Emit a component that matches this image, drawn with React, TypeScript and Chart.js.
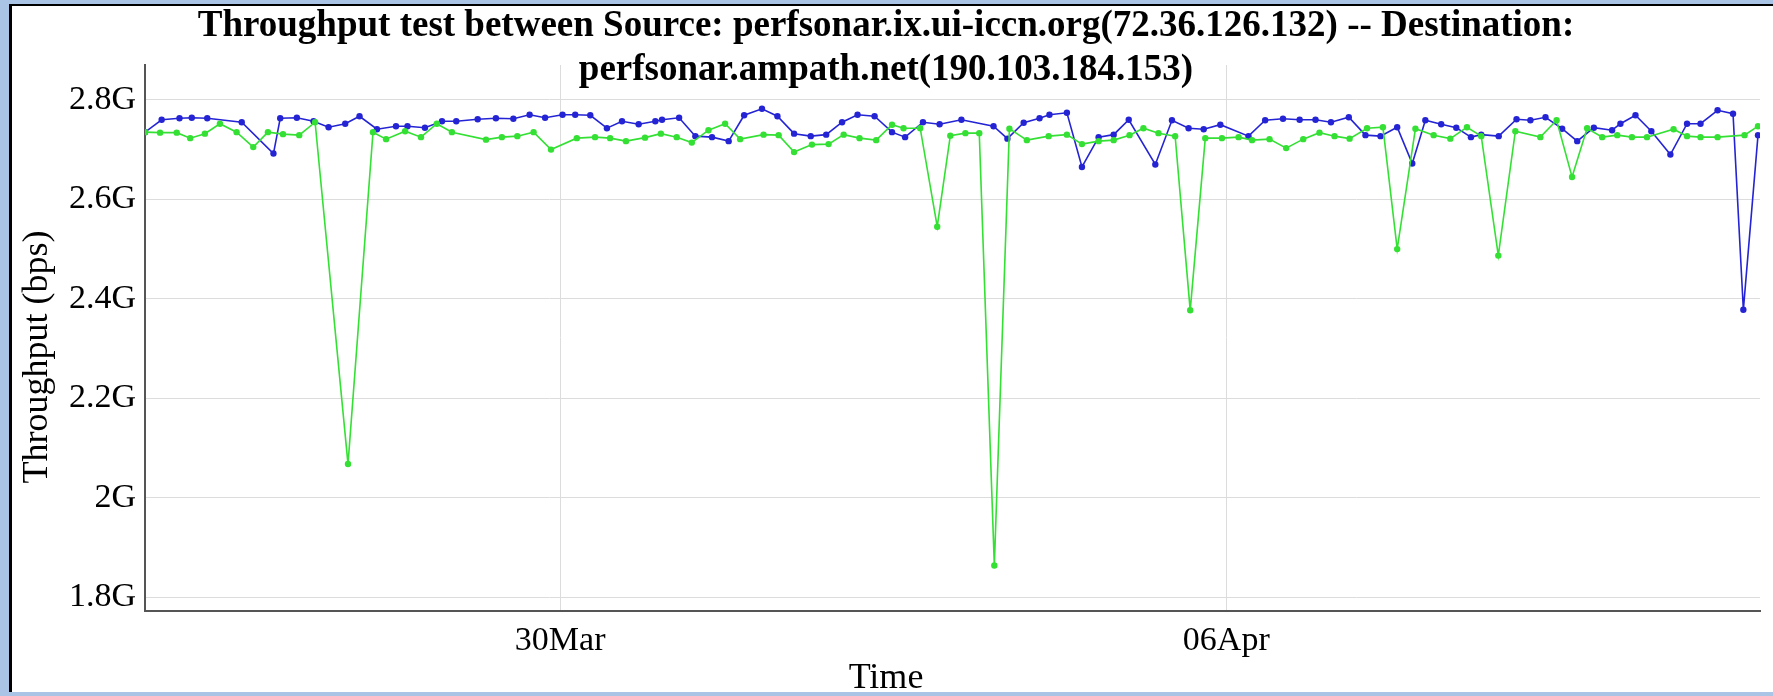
import React, { useEffect, useRef } from "react";
import { Chart, registerables } from "chart.js";

Chart.register(...registerables);

// Time in hours relative to 26 Mar 00:00
const blueHours = [
  -8.7, -4.5, 0.0, 3.1, 7.0, 15.7, 23.7, 25.4, 29.6, 33.8, 37.6, 41.8, 45.4, 49.8, 54.6, 57.5, 61.9,
  66.2, 69.8, 75.2, 79.8, 84.2, 88.3, 92.2, 96.6, 99.8, 103.6, 107.8, 111.6, 115.8, 120.0, 121.7,
  126.0, 130.1, 134.3, 138.5, 142.4, 146.9, 150.8, 155.0, 159.2, 163.1, 167.1, 171.0, 175.3, 179.7,
  183.0, 187.5, 191.7, 197.2, 205.3, 208.8, 212.9, 216.9, 219.4, 223.8, 227.6, 231.8, 235.6, 239.4,
  246.1, 250.3, 254.5, 258.3, 262.5, 269.6, 273.8, 278.3, 282.5, 286.5, 290.4, 294.9, 299.1, 302.9,
  307.1, 310.9, 314.2, 318.2, 322.0, 325.7, 328.3, 332.7, 337.2, 340.7, 344.5, 348.7, 352.5, 356.7,
  361.3, 363.4, 367.2, 371.2, 376.0, 380.2, 383.6, 387.9, 391.8, 394.4, 398.1,
];
// Throughput in Gbps
const blueGbps = [
  2.735, 2.76, 2.763, 2.764, 2.763, 2.755, 2.692, 2.763, 2.764, 2.757, 2.745, 2.752, 2.767, 2.741,
  2.747, 2.747, 2.744, 2.757, 2.757, 2.761, 2.763, 2.762, 2.77, 2.764, 2.77, 2.77, 2.769, 2.743,
  2.757, 2.751, 2.757, 2.76, 2.764, 2.727, 2.725, 2.717, 2.769, 2.782, 2.767, 2.732, 2.727, 2.73,
  2.755, 2.77, 2.767, 2.735, 2.725, 2.755, 2.751, 2.76, 2.747, 2.722, 2.754, 2.763, 2.77, 2.774,
  2.665, 2.725, 2.73, 2.76, 2.67, 2.759, 2.743, 2.741, 2.75, 2.727, 2.759, 2.762, 2.76, 2.76, 2.755,
  2.765, 2.729, 2.727, 2.745, 2.672, 2.759, 2.751, 2.744, 2.725, 2.73, 2.727, 2.761, 2.759, 2.765,
  2.742, 2.717, 2.744, 2.739, 2.752, 2.769, 2.737, 2.69, 2.752, 2.752, 2.779, 2.772, 2.378, 2.729,
];

const greenHours = [
  -8.7, -4.9, -0.7, 2.7, 6.4, 10.2, 14.4, 18.6, 22.3, 26.1, 30.2, 34.2, 42.5, 48.8, 52.1, 56.9, 60.9,
  64.9, 68.7, 77.3, 81.3, 85.2, 89.3, 93.7, 100.2, 104.8, 108.6, 112.6, 117.4, 121.4, 125.4, 129.2,
  133.4, 137.6, 141.4, 147.3, 151.1, 155.0, 159.5, 163.7, 167.5, 171.5, 175.7, 179.7, 182.6, 186.8,
  191.1, 194.4, 198.2, 201.7, 205.5, 209.3, 213.7, 219.2, 223.8, 227.6, 231.8, 235.6, 239.6, 243.1,
  246.9, 251.1, 254.9, 258.7, 262.9, 267.1, 270.5, 274.9, 279.1, 283.4, 287.5, 291.3, 295.1, 299.5,
  303.5, 307.1, 311.7, 316.3, 320.5, 324.7, 328.3, 332.6, 336.9, 343.2, 347.3, 351.2, 355.0, 358.8,
  362.6, 366.3, 370.1, 376.8, 380.2, 383.6, 387.9, 394.7, 398.1,
];
const greenGbps = [
  2.735, 2.734, 2.734, 2.723, 2.732, 2.752, 2.735, 2.705, 2.735, 2.731, 2.729, 2.755, 2.068, 2.735,
  2.721, 2.737, 2.725, 2.752, 2.735, 2.72, 2.725, 2.727, 2.735, 2.7, 2.723, 2.725, 2.723, 2.717,
  2.724, 2.732, 2.725, 2.714, 2.739, 2.752, 2.721, 2.73, 2.729, 2.695, 2.71, 2.711, 2.73, 2.723,
  2.719, 2.75, 2.743, 2.743, 2.545, 2.728, 2.733, 2.733, 1.864, 2.742, 2.719, 2.727, 2.73, 2.711,
  2.717, 2.719, 2.729, 2.743, 2.733, 2.727, 2.377, 2.723, 2.723, 2.725, 2.719, 2.721, 2.703, 2.721,
  2.734, 2.727, 2.722, 2.743, 2.745, 2.5, 2.742, 2.729, 2.722, 2.745, 2.727, 2.487, 2.737, 2.725,
  2.759, 2.645, 2.743, 2.725, 2.729, 2.725, 2.725, 2.741, 2.727, 2.725, 2.725, 2.729, 2.747,
];

const xTickHours = [96, 264];
const xTickLabels = ["30Mar", "06Apr"];
const yTickValues = [1.8, 2.0, 2.2, 2.4, 2.6, 2.8];
const yTickLabels = ["1.8G", "2G", "2.2G", "2.4G", "2.6G", "2.8G"];

const titleLines = [
  "Throughput test between Source: perfsonar.ix.ui-iccn.org(72.36.126.132) -- Destination:",
  "perfsonar.ampath.net(190.103.184.153)",
];
const xAxisTitle = "Time";
const yAxisTitle = "Throughput (bps)";

const FONT = "'Liberation Serif', 'DejaVu Serif', serif";

const textPlugin = {
  id: "fixedTexts",
  afterDraw(chart: any) {
    const ctx = chart.ctx;
    ctx.save();
    ctx.fillStyle = "#000";
    ctx.textAlign = "center";
    ctx.textBaseline = "alphabetic";
    ctx.font = `bold 37px ${FONT}`;
    ctx.fillText(titleLines[0], 886, 36);
    ctx.fillText(titleLines[1], 886, 80);
    ctx.textBaseline = "middle";
    ctx.font = `36px ${FONT}`;
    ctx.fillText(xAxisTitle, 886, 679);
    ctx.translate(38, 357);
    ctx.rotate(-Math.PI / 2);
    ctx.fillText(yAxisTitle, 0, 0);
    ctx.restore();
  },
};

export default function App() {
  const ref = useRef<HTMLCanvasElement | null>(null);

  useEffect(() => {
    const canvas = ref.current;
    if (!canvas) return;
    const toPts = (xs: number[], ys: number[]) => xs.map((x, i) => ({ x, y: ys[i] }));
    const chart = new Chart(canvas, {
      type: "line",
      data: {
        datasets: [
          {
            label: "forward",
            data: toPts(greenHours, greenGbps),
            borderColor: "#33e033",
            backgroundColor: "#33e033",
            borderWidth: 1.6,
            pointRadius: 3.2,
            pointBorderWidth: 0,
            tension: 0,
          },
          {
            label: "reverse",
            data: toPts(blueHours, blueGbps),
            borderColor: "#2424d4",
            backgroundColor: "#2424d4",
            borderWidth: 1.6,
            pointRadius: 3.2,
            pointBorderWidth: 0,
            tension: 0,
          },
        ],
      },
      plugins: [textPlugin],
      options: {
        responsive: false,
        animation: false,
        layout: { padding: { left: 0, right: 13, top: 65, bottom: 0 } },
        plugins: {
          legend: { display: false },
          tooltip: { enabled: false },
          title: { display: false },
        },
        scales: {
          x: {
            type: "linear",
            min: -8.7,
            max: 398.6,
            afterBuildTicks: (s: any) => {
              s.ticks = xTickHours.map((v) => ({ value: v }));
            },
            afterFit: (s: any) => {
              s.height = 696 - 611;
            },
            ticks: {
              autoSkip: false,
              maxRotation: 0,
              padding: 10,
              color: "#000",
              font: { family: FONT, size: 34 },
              callback: (v: any) => {
                const i = xTickHours.indexOf(Number(v));
                return i >= 0 ? xTickLabels[i] : "";
              },
            },
            grid: { color: "#dcdcdc", lineWidth: 1, drawTicks: false },
            border: { color: "#555", width: 2 },
          },
          y: {
            type: "linear",
            min: 1.7727,
            max: 2.87,
            afterBuildTicks: (s: any) => {
              s.ticks = yTickValues.map((v) => ({ value: v }));
            },
            afterFit: (s: any) => {
              s.width = 145;
            },
            ticks: {
              padding: 9,
              color: "#000",
              font: { family: FONT, size: 34 },
              callback: (v: any) => {
                const i = yTickValues.findIndex((t) => Math.abs(t - Number(v)) < 1e-6);
                return i >= 0 ? yTickLabels[i] : "";
              },
            },
            grid: { color: "#dcdcdc", lineWidth: 1, drawTicks: false },
            border: { color: "#555", width: 2 },
          },
        },
      },
    });
    return () => chart.destroy();
  }, []);

  return (
    <div
      style={{
        position: "fixed",
        left: 0,
        top: 0,
        width: 1773,
        height: 696,
        background: "#a9c4e4",
        overflow: "hidden",
      }}
    >
      <div
        style={{
          position: "absolute",
          left: 9,
          top: 4,
          width: 1764,
          height: 688,
          background: "#fff",
          borderTop: "2px solid #000",
          borderLeft: "3px solid #000",
          boxSizing: "border-box",
        }}
      />
      <canvas
        ref={ref}
        width={1773}
        height={696}
        style={{ position: "absolute", left: 0, top: 0 }}
      />
    </div>
  );
}
